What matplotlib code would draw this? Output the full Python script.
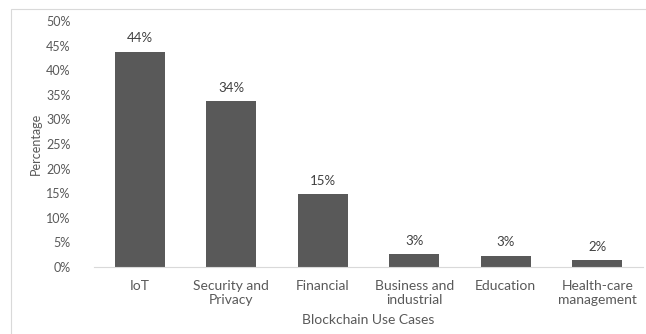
import matplotlib.pyplot as plt
from matplotlib.ticker import PercentFormatter
from matplotlib.patches import Rectangle

categories = ['IoT', 'Security and\nPrivacy', 'Financial', 'Business and\nindustrial',
              'Education', 'Health-care\nmanagement']
values = [43.8, 33.7, 14.8, 2.6, 2.3, 1.4]
labels = ['44%', '34%', '15%', '3%', '3%', '2%']

plt.rcParams['font.family'] = ['Lato', 'DejaVu Sans']
txt = '#595959'
fs = 9.5

fig = plt.figure(figsize=(6.46, 3.34), dpi=100)
# light frame around the chart area
fig.patches.append(Rectangle((11 / 646, -0.1), 1.2, 1 - 9 / 334 + 0.1, transform=fig.transFigure,
                             fill=False, edgecolor='#d9d9d9', linewidth=0.8))
ax = fig.add_axes([94 / 646, 1 - 267 / 334, 549 / 646, (267 - 21) / 334])

x = range(len(categories))
ax.bar(x, values, width=0.55, color='#595959')
for i, (v, lab) in enumerate(zip(values, labels)):
    ax.text(i, v + 1.5, lab, ha='center', va='bottom', fontsize=fs, color='#404040')

ax.set_xlim(-0.5, len(categories) - 0.5)
ax.set_ylim(0, 50)
ax.set_yticks(range(0, 51, 5))
ax.yaxis.set_major_formatter(PercentFormatter(decimals=0))
ax.set_xticks(list(x))
ax.set_xticklabels(categories, fontsize=10, color=txt, linespacing=1.2)
ax.tick_params(axis='y', labelsize=9, labelcolor=txt, length=0, pad=17)
ax.tick_params(axis='x', length=0, pad=9)
for s in ['top', 'right', 'left']:
    ax.spines[s].set_visible(False)
ax.spines['bottom'].set_color('#d9d9d9')

ax.set_xlabel('Blockchain Use Cases', fontsize=10, color=txt)
ax.xaxis.set_label_coords(0.5, -0.19)
ax.set_ylabel('Percentage', fontsize=9, color=txt)
ax.yaxis.set_label_coords(-0.095, 0.5)

fig.savefig('out.png', dpi=100)
